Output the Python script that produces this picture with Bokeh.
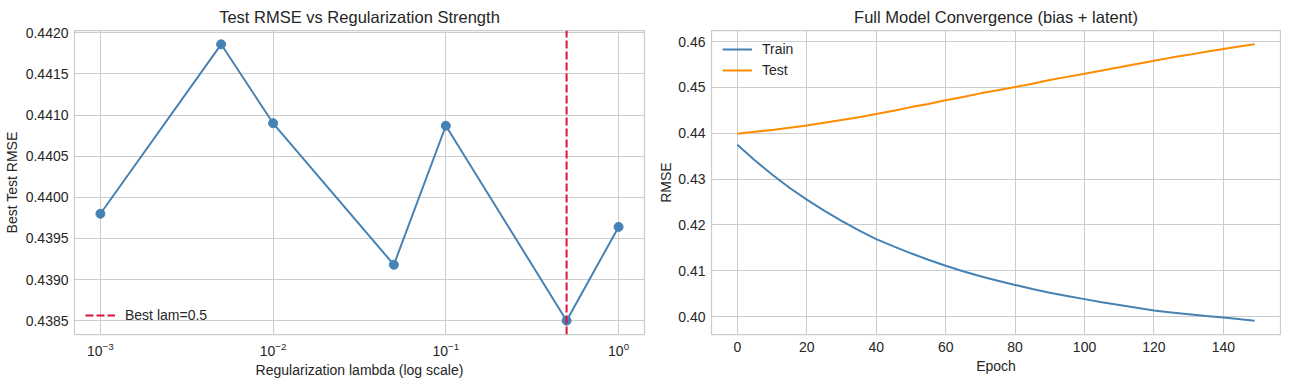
import math
from bokeh.plotting import figure
from bokeh.layouts import row
from bokeh.models import Range1d, FixedTicker, NumeralTickFormatter, Legend, LegendItem
from bokeh.embed import file_html
from bokeh.resources import INLINE

# ---- data ----
lambdas = [0.001, 0.005, 0.01, 0.05, 0.1, 0.5, 1.0]
best_rmse = [0.43980, 0.44186, 0.44090, 0.43918, 0.44087, 0.43850, 0.43964]

epochs = [0, 5, 10, 15, 20, 25, 30, 35, 40, 45, 50, 55, 60, 65, 70, 75,
          80, 85, 90, 95, 100, 105, 110, 115, 120, 125, 130, 135, 140, 145, 149]
train_rmse = [0.4375, 0.4341, 0.4310, 0.4281, 0.4255, 0.4231, 0.4209, 0.4188,
              0.4169, 0.4153, 0.4138, 0.4124, 0.4111, 0.4099, 0.4088, 0.4078,
              0.4069, 0.4060, 0.4052, 0.4045, 0.4038, 0.4031, 0.4025, 0.4019,
              0.4013, 0.4009, 0.4005, 0.4001, 0.3998, 0.3994, 0.3991]
test_rmse = [0.4399, 0.4403, 0.4407, 0.4412, 0.4417, 0.4423, 0.4429, 0.4435,
             0.4442, 0.4449, 0.4457, 0.4464, 0.4472, 0.4479, 0.4487, 0.4494,
             0.4501, 0.4508, 0.4516, 0.4523, 0.4530, 0.4537, 0.4544, 0.4551,
             0.4558, 0.4565, 0.4571, 0.4578, 0.4584, 0.4590, 0.4594]

left_yticks = [0.4385, 0.4390, 0.4395, 0.4400, 0.4405, 0.4410, 0.4415, 0.4420]
right_yticks = [0.40, 0.41, 0.42, 0.43, 0.44, 0.45, 0.46]
right_xticks = [0, 20, 40, 60, 80, 100, 120, 140]

FONT = "Liberation Sans"
TXT = "#262626"
GRID = "#cccccc"
BLUE = "#4682b4"
ORANGE = "#ff8c00"
RED = "#dc143c"


def pad(lo, hi, frac=0.05):
    s = hi - lo
    return lo - frac * s, hi + frac * s


def style(p, ylabel_standoff):
    p.title.text_font = FONT
    p.title.text_font_size = "16.5px"
    p.title.text_font_style = "normal"
    p.title.text_color = TXT
    p.title.align = "center"
    p.outline_line_color = GRID
    p.outline_line_width = 1.25
    p.background_fill_color = "white"
    for ax in (p.xaxis[0], p.yaxis[0]):
        ax.axis_line_color = None
        ax.major_tick_line_color = None
        ax.minor_tick_line_color = None
        ax.major_tick_out = 0
        ax.major_tick_in = 0
        ax.minor_tick_out = 0
        ax.minor_tick_in = 0
        ax.major_label_text_font = FONT
        ax.major_label_text_font_size = "14px"
        ax.major_label_text_color = TXT
        ax.axis_label_text_font = FONT
        ax.axis_label_text_font_size = "14px"
        ax.axis_label_text_font_style = "normal"
        ax.axis_label_text_color = TXT
        ax.major_label_standoff = 6
    p.yaxis[0].axis_label_standoff = ylabel_standoff
    p.xaxis[0].major_label_standoff = 7
    p.xaxis[0].axis_label_standoff = 3
    for g in (p.xgrid[0], p.ygrid[0]):
        g.grid_line_color = GRID
        g.grid_line_width = 1


H = 380

# ---- left panel ----
lx0, lx1 = pad(math.log10(min(lambdas)), math.log10(max(lambdas)))
ly0, ly1 = pad(min(best_rmse), max(best_rmse))
p1 = figure(width=649, height=H, output_backend="svg", toolbar_location=None,
            x_axis_type="log", title="Test RMSE vs Regularization Strength",
            x_range=Range1d(10 ** lx0, 10 ** lx1), y_range=Range1d(ly0, ly1),
            min_border_left=69, min_border_right=5, min_border_top=22,
            min_border_bottom=30)
style(p1, 3)
p1.xaxis.axis_label = "Regularization lambda (log scale)"
p1.yaxis.axis_label = "Best Test RMSE"
p1.yaxis.ticker = FixedTicker(ticks=left_yticks)
p1.yaxis.formatter = NumeralTickFormatter(format="0.0000")

p1.line(lambdas, best_rmse, line_color=BLUE, line_width=2)
p1.scatter(lambdas, best_rmse, size=9, fill_color=BLUE, line_color=BLUE)

best_lam = lambdas[best_rmse.index(min(best_rmse))]
vr = p1.line([best_lam, best_lam], [ly0, ly1], line_color=RED, line_width=2,
             line_dash="8 3")
leg1 = Legend(items=[LegendItem(label="Best lam=0.5", renderers=[vr])],
              location="bottom_left", border_line_color=None,
              background_fill_alpha=0, label_text_font=FONT,
              label_text_font_size="14px", label_text_color=TXT,
              glyph_width=30, glyph_height=14, padding=4, margin=11,
              label_standoff=10)
p1.add_layout(leg1)

# ---- right panel ----
rx0, rx1 = pad(min(epochs), max(epochs))
ry0, ry1 = pad(min(train_rmse + test_rmse), max(train_rmse + test_rmse))
p2 = figure(width=632, height=H, output_backend="svg", toolbar_location=None,
            title="Full Model Convergence (bias + latent)",
            x_range=Range1d(rx0, rx1), y_range=Range1d(ry0, ry1),
            min_border_left=62, min_border_right=1, min_border_top=22,
            min_border_bottom=30)
style(p2, 1)
p2.xaxis.axis_label = "Epoch"
p2.yaxis.axis_label = "RMSE"
p2.xaxis.ticker = FixedTicker(ticks=right_xticks)
p2.yaxis.ticker = FixedTicker(ticks=right_yticks)
p2.yaxis.formatter = NumeralTickFormatter(format="0.00")

r_tr = p2.line(epochs, train_rmse, line_color=BLUE, line_width=2)
r_te = p2.line(epochs, test_rmse, line_color=ORANGE, line_width=2)
leg2 = Legend(items=[LegendItem(label="Train", renderers=[r_tr]),
                     LegendItem(label="Test", renderers=[r_te])],
              location="top_left", border_line_color=None,
              background_fill_alpha=0, label_text_font=FONT,
              label_text_font_size="14px", label_text_color=TXT,
              glyph_width=30, glyph_height=14, padding=4, margin=11,
              spacing=5, label_standoff=10)
p2.add_layout(leg2)

layout = row(p1, p2, margin=(0, 0, -14, 0))
open("out.html", "w").write(file_html(layout, INLINE))
